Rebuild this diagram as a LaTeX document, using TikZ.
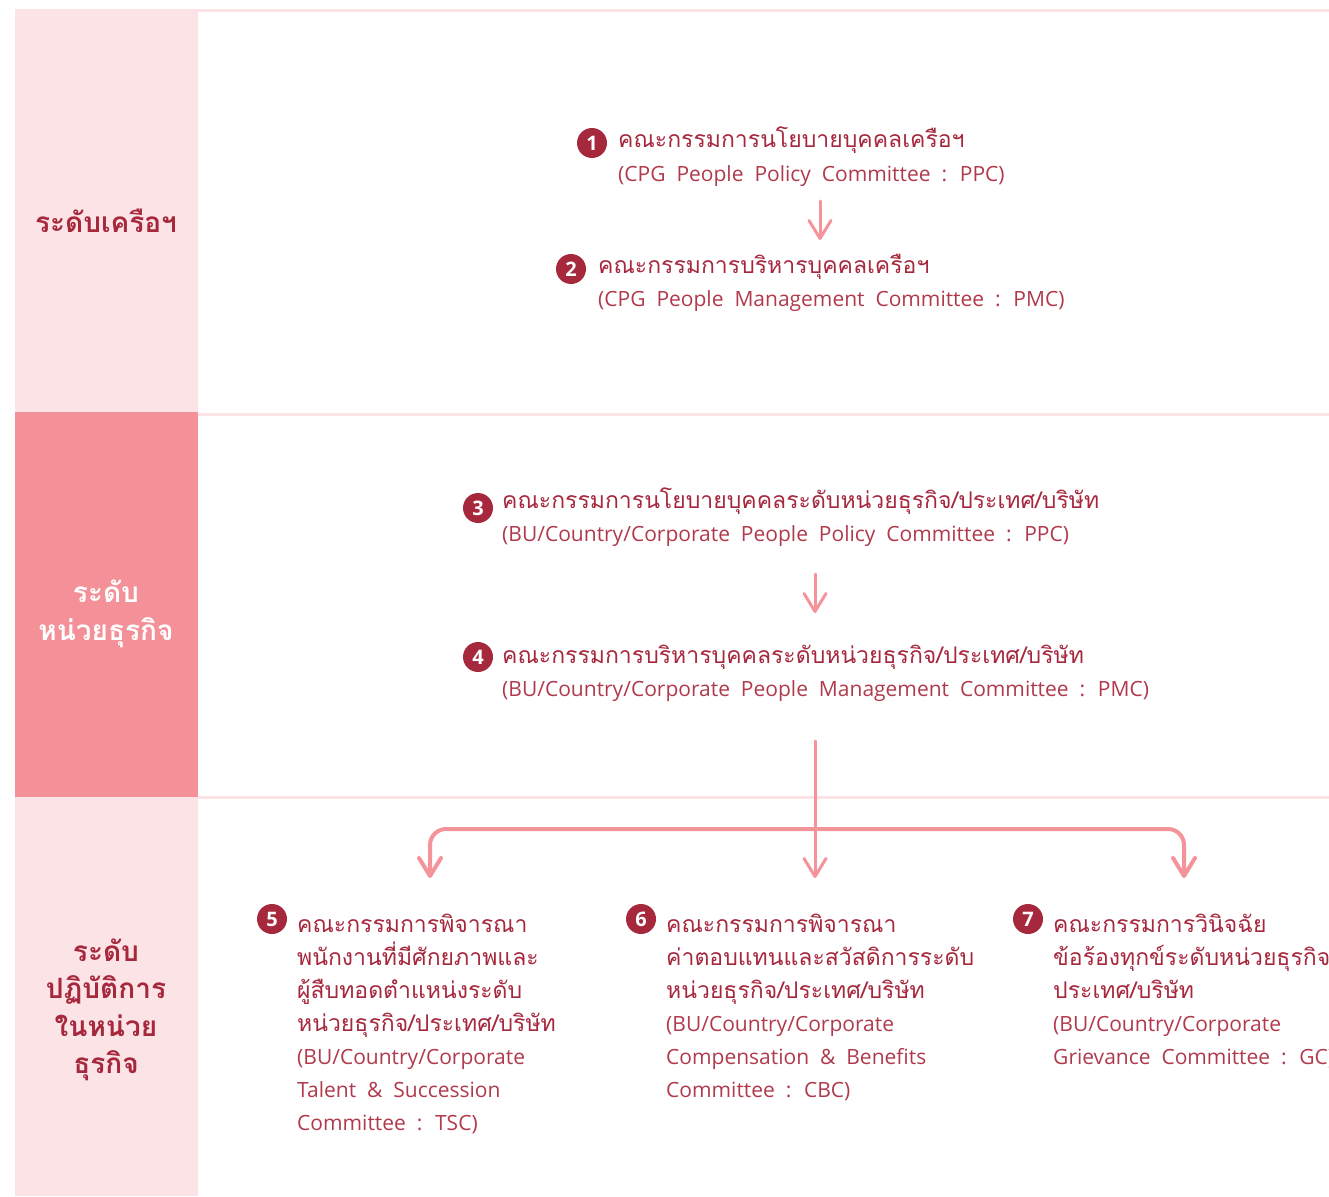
\documentclass[tikz,border=0pt]{standalone}
\usepackage{fontspec}
\usepackage{xcolor}
\usepackage{tikz}
\usetikzlibrary{arrows.meta,positioning}
\setmainfont{Open Sans}
\newfontfamily\thaifont[Script=Thai]{Loma}
\newfontfamily\engfont[WordSpace=2]{Open Sans}

\definecolor{cpgred}{HTML}{A6283D}
\definecolor{cpgtxt}{HTML}{B03A4C}
\definecolor{cpgpink}{HTML}{F4939A}
\definecolor{cpglight}{HTML}{FCE4E6}
\definecolor{cpgmid}{HTML}{F49097}

\tikzset{
  levellabel/.style={align=center, text=cpgred, font=\thaifont\bfseries\fontsize{28}{37.5}\selectfont},
  numdot/.style={circle, fill=cpgred, text=white, minimum size=30pt, inner sep=0pt, font=\engfont\bfseries\fontsize{20}{20}\selectfont},
  thline/.style={anchor=base west, inner sep=0pt, text=cpgred, font=\thaifont\fontsize{23}{30}\selectfont},
  enline/.style={anchor=base west, inner sep=0pt, text=cpgtxt, font=\engfont\fontsize{21}{30}\selectfont},
  sepline/.style={draw=cpglight, line width=3pt},
  flow/.style={draw=cpgpink, line width=3pt, line cap=round, -{Straight Barb[length=18pt,width=22pt,round]}},
}

\begin{document}
\begin{tikzpicture}[x=1pt,y=-1pt]
        \useasboundingbox (0,0) rectangle (1329,1196);
        \clip (0,0) rectangle (1329,1196);

        % Level bands on the left
        \fill[cpglight] (15,9) rectangle (198,412);
        \fill[cpgmid] (15,412) rectangle (198,797);
        \fill[cpglight] (15,797) rectangle (198,1196);

        % Row separators
        \draw[sepline] (198,11) -- (1329,11);
        \draw[sepline] (198,414) -- (1329,414);
        \draw[sepline] (198,797) -- (1329,797);

        % Level labels
        \node[levellabel] (lv1) at (106,221) {ระดับเครือฯ};
        \node[levellabel, text=white] (lv2) at (106,614) {ระดับ\\หน่วยธุรกิจ};
        \node[levellabel] (lv3) at (106,1010) {ระดับ\\ปฏิบัติการ\\ในหน่วย\\ธุรกิจ};

        % Group level
        \node[numdot] (d1) at (592,143) {1};
        \node[thline] (t1) at (618,147) {คณะกรรมการนโยบายบุคคลเครือฯ};
        \node[enline] (e1) at (618,181) {(CPG People Policy Committee : PPC)};

        \node[numdot] (d2) at (571,269) {2};
        \node[thline] (t2) at (598,273) {คณะกรรมการบริหารบุคคลเครือฯ};
        \node[enline] (e2) at (598,306) {(CPG People Management Committee : PMC)};

        % Business unit level
        \node[numdot] (d3) at (478,508) {3};
        \node[thline] (t3) at (502,508) {คณะกรรมการนโยบายบุคคลระดับหน่วยธุรกิจ/ประเทศ/บริษัท};
        \node[enline] (e3) at (502,541) {(BU/Country/Corporate People Policy Committee : PPC)};

        \node[numdot] (d4) at (478,657) {4};
        \node[thline] (t4) at (502,663) {คณะกรรมการบริหารบุคคลระดับหน่วยธุรกิจ/ประเทศ/บริษัท};
        \node[enline] (e4) at (502,696) {(BU/Country/Corporate People Management Committee : PMC)};

        % Operational level
        \node[numdot] (d5) at (272,919) {5};
        \node[thline] (t5a) at (297,932) {คณะกรรมการพิจารณา};
        \node[thline] (t5b) at (297,965) {พนักงานที่มีศักยภาพและ};
        \node[thline] (t5c) at (297,998) {ผู้สืบทอดตำแหน่งระดับ};
        \node[thline] (t5d) at (297,1031) {หน่วยธุรกิจ/ประเทศ/บริษัท};
        \node[enline] (e5a) at (297,1064) {(BU/Country/Corporate};
        \node[enline] (e5b) at (297,1097) {Talent \& Succession};
        \node[enline] (e5c) at (297,1130) {Committee : TSC)};

        \node[numdot] (d6) at (641,919) {6};
        \node[thline] (t6a) at (666,932) {คณะกรรมการพิจารณา};
        \node[thline] (t6b) at (666,965) {ค่าตอบแทนและสวัสดิการระดับ};
        \node[thline] (t6c) at (666,998) {หน่วยธุรกิจ/ประเทศ/บริษัท};
        \node[enline] (e6a) at (666,1031) {(BU/Country/Corporate};
        \node[enline] (e6b) at (666,1064) {Compensation \& Benefits};
        \node[enline] (e6c) at (666,1097) {Committee : CBC)};

        \node[numdot] (d7) at (1028,919) {7};
        \node[thline] (t7a) at (1053,932) {คณะกรรมการวินิจฉัย};
        \node[thline] (t7b) at (1053,965) {ข้อร้องทุกข์ระดับหน่วยธุรกิจ/};
        \node[thline] (t7c) at (1053,998) {ประเทศ/บริษัท};
        \node[enline] (e7a) at (1053,1031) {(BU/Country/Corporate};
        \node[enline] (e7b) at (1053,1064) {Grievance Committee : GC)};

        % Arrows
        \coordinate (p1) at (820,201);
        \coordinate (p2) at (820,240);
        \coordinate (p3) at (815,574);
        \coordinate (p4) at (815,613);
        \coordinate (top) at (815,741);
        \coordinate (split) at (815,829);
        \coordinate (a5) at (430,878);
        \coordinate (a6) at (815,878);
        \coordinate (a7) at (1184,878);

        \draw[flow] (p1) -- (p2);
        \draw[flow] (p3) -- (p4);
        \draw[flow] (top) -- (a6);
        \draw[flow, line width=4pt, rounded corners=16pt] (split) -| (a5);
        \draw[flow, line width=4pt, rounded corners=16pt] (split) -| (a7);
    \end{tikzpicture}
\end{document}
